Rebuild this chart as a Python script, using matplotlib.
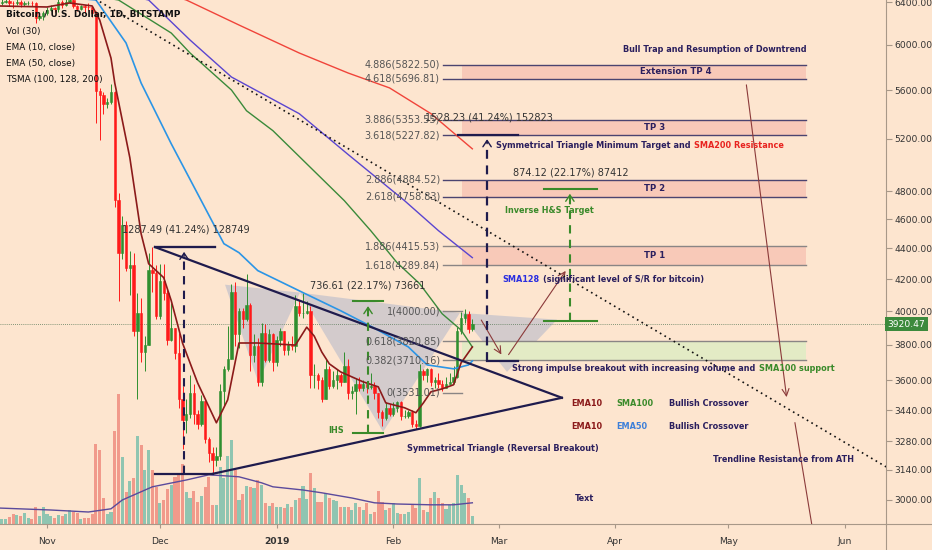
import matplotlib
matplotlib.use("Agg")
import matplotlib.pyplot as plt
import matplotlib.dates as mdates
import pandas as pd
from matplotlib.patches import Rectangle, Polygon
from matplotlib.lines import Line2D
from matplotlib.ticker import FixedLocator, FixedFormatter, NullLocator

plt.rcParams['font.family'] = ['DejaVu Sans']

# ---------------- data ----------------
start_date = '2018-10-19'
close_oct = [6395, 6405, 6410, 6395, 6390, 6405, 6385, 6390, 6395, 6390, 6250, 6265, 6300]
high_oct = [6440, 6430, 6445, 6430, 6410, 6440, 6420, 6410, 6415, 6410, 6400, 6290, 6320]
low_oct = [6360, 6375, 6390, 6370, 6350, 6380, 6360, 6365, 6375, 6370, 6200, 6230, 6230]
close_nov = [6330, 6350, 6335, 6400, 6380, 6400, 6420, 6370, 6340, 6365, 6360, 6355, 6300, 5590, 5560,
             5480, 5500, 5580, 4740, 4370, 4560, 4270, 4290, 3880, 3990, 3760, 3800, 4260, 4240, 3970]
high_nov = [6360, 6380, 6360, 6450, 6420, 6430, 6500, 6440, 6380, 6380, 6375, 6390, 6360, 6320, 5620,
            5580, 5530, 5650, 5590, 4790, 4620, 4590, 4380, 4370, 4110, 4080, 3850, 4370, 4409, 4290]
low_nov = [6280, 6320, 6310, 6310, 6350, 6370, 6390, 6350, 6320, 6330, 6300, 6330, 6260, 5330, 5190,
           5400, 5450, 5480, 4690, 4060, 4330, 4250, 4100, 3850, 3500, 3700, 3650, 3800, 4120, 3950]
close_dec = [4190, 4110, 3830, 3900, 3750, 3500, 3390, 3420, 3530, 3420, 3370, 3490, 3290, 3220, 3190, 3210,
             3540, 3660, 3720, 4120, 3860, 4000, 3950, 4040, 3740, 3790, 3590, 3870, 3710, 3860, 3700]
high_dec = [4300, 4300, 4130, 4050, 3900, 3870, 3570, 3500, 3630, 3580, 3440, 3520, 3490, 3300, 3250, 3250,
            3580, 3680, 3910, 4170, 4180, 4020, 4020, 4230, 4050, 3860, 3840, 3930, 3920, 3890, 3870]
low_dec = [3950, 4070, 3800, 3820, 3720, 3450, 3240, 3320, 3400, 3370, 3340, 3360, 3270, 3180, 3122, 3160,
           3190, 3460, 3650, 3720, 3790, 3780, 3900, 3940, 3650, 3700, 3570, 3570, 3700, 3700, 3650]
close_jan = [3830, 3880, 3770, 3800, 3790, 4030, 3990, 3990, 4000, 3630, 3630, 3600, 3500, 3660, 3570, 3600,
             3630, 3590, 3680, 3530, 3540, 3580, 3560, 3580, 3565, 3570, 3530, 3430, 3400, 3450, 3420]
high_jan = [3850, 3900, 3880, 3820, 3850, 4100, 4070, 4110, 4060, 4030, 3690, 3640, 3620, 3720, 3680, 3650,
            3660, 3640, 3760, 3720, 3570, 3610, 3620, 3600, 3590, 3640, 3590, 3530, 3440, 3480, 3470]
low_jan = [3680, 3790, 3740, 3740, 3770, 3760, 3970, 3960, 3980, 3560, 3560, 3550, 3480, 3500, 3550, 3560,
           3550, 3570, 3590, 3500, 3500, 3420, 3540, 3540, 3530, 3550, 3500, 3400, 3360, 3390, 3410]
close_feb = [3450, 3480, 3410, 3410, 3430, 3370, 3360, 3650, 3630, 3660, 3590, 3600, 3580, 3560, 3580,
             3590, 3620, 3880, 3960, 3980, 3890, 3920.47]
high_feb = [3480, 3490, 3490, 3440, 3440, 3440, 3390, 3690, 3660, 3670, 3670, 3620, 3640, 3600, 3620,
            3640, 3680, 3905, 3995, 4010, 4000, 3950]
low_feb = [3410, 3430, 3390, 3400, 3400, 3350, 3340, 3350, 3600, 3590, 3570, 3560, 3560, 3540, 3560,
           3580, 3580, 3610, 3860, 3930, 3870, 3880]
first_open = 6400

# volume, thousands of BTC
vol_oct = [1.8, 1.3, 1.3, 1.8, 2.5, 2.3, 2.0, 2.8, 1.5, 1.3, 4.3, 2.0, 4.3]
vol_nov = [2.5, 2.0, 1.5, 2.3, 2.0, 2.5, 3.5, 3.0, 2.8, 1.3, 1.5, 1.5, 2.5, 20.0, 18.5,
           6.5, 2.5, 3.0, 23.3, 32.5, 16.8, 8.0, 10.8, 11.5, 22.0, 19.8, 13.5, 18.5, 13.5, 9.3]
vol_dec = [5.3, 6.0, 8.8, 9.8, 11.8, 12.5, 15.0, 8.0, 6.5, 8.3, 5.5, 7.0, 9.3, 11.8, 4.8, 4.8,
           14.3, 11.5, 17.0, 21.0, 13.5, 6.0, 7.5, 9.5, 9.3, 9.0, 11.0, 9.8, 5.3, 4.5, 5.3]
vol_jan = [4.3, 4.3, 4.0, 5.0, 4.3, 6.0, 6.5, 9.5, 6.3, 12.8, 9.0, 5.5, 5.5, 7.8, 6.5, 6.0,
           5.8, 4.3, 4.3, 4.3, 3.5, 5.3, 4.3, 3.5, 5.3, 2.5, 3.0, 8.3, 5.5, 3.5, 4.0]
vol_feb = [5.3, 2.8, 2.5, 2.5, 3.0, 5.0, 4.0, 11.5, 3.5, 3.0, 6.5, 8.0, 6.5, 5.3, 3.8,
           4.8, 5.3, 12.3, 9.8, 7.8, 6.5, 2.0]

# indicator lines (date, value)
ema10 = [("2018-10-19", 6366), ("2018-11-01", 6356), ("2018-11-07", 6395), ("2018-11-13", 6366),
         ("2018-11-15", 6231), ("2018-11-18", 5880), ("2018-11-19", 5661), ("2018-11-23", 5053),
         ("2018-11-26", 4500), ("2018-11-28", 4299), ("2018-12-02", 4209), ("2018-12-04", 4064),
         ("2018-12-07", 3810), ("2018-12-11", 3586), ("2018-12-16", 3374), ("2018-12-19", 3494),
         ("2018-12-22", 3810), ("2018-12-27", 3810), ("2019-01-06", 3798), ("2019-01-09", 3903),
         ("2019-01-11", 3850), ("2019-01-13", 3758), ("2019-01-15", 3691), ("2019-01-18", 3646),
         ("2019-01-24", 3591), ("2019-01-28", 3564), ("2019-01-30", 3478), ("2019-02-04", 3452),
         ("2019-02-07", 3426), ("2019-02-09", 3478), ("2019-02-11", 3537), ("2019-02-14", 3553),
         ("2019-02-17", 3575), ("2019-02-19", 3696), ("2019-02-22", 3787)]
ema50 = [("2018-10-19", 6500), ("2018-11-01", 6470), ("2018-11-14", 6424), ("2018-11-22", 6017),
         ("2018-11-26", 5661), ("2018-12-04", 5161), ("2018-12-11", 4783), ("2018-12-18", 4432),
         ("2018-12-22", 4372), ("2018-12-27", 4254), ("2019-01-08", 4114), ("2019-01-18", 4002),
         ("2019-01-27", 3897), ("2019-02-05", 3787), ("2019-02-10", 3685), ("2019-02-17", 3663),
         ("2019-02-21", 3685), ("2019-02-22", 3707)]
sma100 = [("2018-10-19", 6600), ("2018-11-01", 6540), ("2018-11-20", 6424), ("2018-12-04", 6109),
          ("2018-12-09", 5926), ("2018-12-20", 5601), ("2018-12-24", 5427), ("2018-12-31", 5265),
          ("2019-01-19", 4732), ("2019-01-26", 4521), ("2019-02-02", 4306), ("2019-02-08", 4170),
          ("2019-02-14", 3983), ("2019-02-19", 3886), ("2019-02-22", 3787)]
sma128 = [("2018-10-19", 6750), ("2018-11-28", 6424), ("2018-12-09", 6044), ("2018-12-20", 5713),
          ("2019-01-07", 5403), ("2019-01-20", 5077), ("2019-02-04", 4732), ("2019-02-13", 4521),
          ("2019-02-22", 4339)]
sma200 = [("2018-10-19", 7000), ("2018-12-08", 6424), ("2018-12-22", 6184), ("2019-01-07", 5926),
          ("2019-01-20", 5748), ("2019-01-31", 5619), ("2019-02-11", 5403), ("2019-02-22", 5121)]
vol_ma = [("2018-10-19", 4.0), ("2018-11-02", 3.5), ("2018-11-12", 3.0), ("2018-11-18", 3.8),
          ("2018-11-21", 6.0), ("2018-11-29", 9.3), ("2018-12-08", 11.0), ("2018-12-14", 12.3),
          ("2018-12-19", 12.0), ("2018-12-22", 11.8), ("2018-12-28", 10.3), ("2018-12-31", 9.3),
          ("2019-01-08", 8.5), ("2019-01-13", 7.8), ("2019-01-21", 6.5), ("2019-01-27", 5.3),
          ("2019-02-02", 5.0), ("2019-02-11", 4.8), ("2019-02-17", 4.8), ("2019-02-22", 5.3)]

fib_ratios = ['4.886', '4.618', '3.886', '3.618', '2.886', '2.618', '1.886', '1.618', '1', '0.618', '0.382', '0']
fib_prices = [5822.50, 5696.81, 5353.55, 5227.82, 4884.52, 4758.83, 4415.53, 4289.84, 4000.00, 3820.85, 3710.16, 3531.01]
tp_zones = [(5696.81, 5822.50, 'Extension TP 4'), (5227.82, 5353.55, 'TP 3'),
            (4758.83, 4884.52, 'TP 2'), (4289.84, 4415.53, 'TP 1')]

price_ticks = [3000, 3140, 3280, 3440, 3600, 3800, 4000, 4200, 4400, 4600, 4800, 5200, 5600, 6000, 6400]
month_ticks = ['2018-11-01', '2018-12-01', '2019-01-01', '2019-02-01', '2019-03-01', '2019-04-01', '2019-05-01', '2019-06-01']
month_labels = ['Nov', 'Dec', '2019', 'Feb', 'Mar', 'Apr', 'May', 'Jun']
last_price = 3920.47

# ---------------- style ----------------
BG = '#fde5cf'
NAVY = '#2b1f5e'
RED_C = '#ff1a1a'
GRN_C = '#2f8f2f'
GREEN_T = '#3a8a2a'
BOLD_SIZE = 5.9
D = mdates.datestr2num

closes = close_oct + close_nov + close_dec + close_jan + close_feb
highs = high_oct + high_nov + high_dec + high_jan + high_feb
lows = low_oct + low_nov + low_dec + low_jan + low_feb
vols = vol_oct + vol_nov + vol_dec + vol_jan + vol_feb
opens = [first_open] + closes[:-1]
dates = pd.date_range(start_date, periods=len(closes), freq='D')
xd = mdates.date2num(dates.to_pydatetime())

fig = plt.figure(figsize=(9.32, 5.5), dpi=100, facecolor=BG)
rect = [0, 26 / 550, 886 / 932, 524 / 550]
axv = fig.add_axes(rect)
axv.set_facecolor(BG)
ax = fig.add_axes(rect, sharex=axv)
ax.patch.set_visible(False)

# ---- volume ----
up = [c >= o for o, c in zip(opens, closes)]
vcols = ['#8fc5b1' if u else '#f19a8b' for u in up]
axv.bar(xd, vols, width=0.82, color=vcols, linewidth=0)
axv.plot([D(d) for d, _ in vol_ma], [v for _, v in vol_ma], color='#5b4a9c', lw=1.0)
axv.set_ylim(0, 131)
for s in axv.spines.values():
    s.set_visible(False)
axv.tick_params(axis='both', which='both', length=0, labelbottom=False, labelleft=False)
axv.yaxis.set_major_locator(NullLocator())

# ---- price axis ----
ax.set_yscale('log')
ax.set_ylim(2892, 6424)
d0 = D('2018-11-01')
ax.set_xlim(d0 - 12.49, d0 + 222.9)

# IHS pattern (gray)
ihs = [("2018-12-18 07:00", 4164), ("2018-12-27 02:00", 3591), ("2019-01-07 05:00", 4114),
       ("2019-01-29 07:00", 3328), ("2019-02-18 17:00", 3989), ("2019-03-03 05:00", 3646),
       ("2019-03-16 12:00", 3948)]
for a, b, c in [(0, 1, 2), (2, 3, 4), (4, 5, 6)]:
    pts = [(D(ihs[i][0]), ihs[i][1]) for i in (a, b, c)]
    ax.add_patch(Polygon(pts, closed=True, fc='#c9c5cc', ec='none', alpha=0.8, zorder=1))

# fib levels & boxes
lab_x = D('2019-02-13 10:00')
line_x0 = D('2019-02-14 05:00')
box_x0 = D('2019-02-19 07:00')
line_x1 = D('2019-05-21 14:00')
for lo, hi, name in tp_zones:
    ax.add_patch(Rectangle((box_x0, lo), line_x1 - box_x0, hi - lo, fc='#f8c9b8', ec='none', zorder=1.2))
    cx = D('2019-04-17') if 'Extension' in name else D('2019-04-11 12:00')
    ax.text(cx, (lo * hi) ** 0.5, name, ha='center', va='center', fontsize=BOLD_SIZE + 0.2,
            fontweight='bold', color=NAVY, zorder=6)
ax.add_patch(Rectangle((box_x0, 3710.16), line_x1 - box_x0, 3820.85 - 3710.16,
                       fc='#e3ebc5', ec='none', zorder=1.2))
for r, p in zip(fib_ratios, fib_prices):
    x1 = box_x0 if r in ('1', '0') else line_x1
    col = '#4b4470' if p > 4700 else '#8a8585'
    ax.plot([line_x0, x1], [p, p], color=col, lw=1.0, zorder=1.5)
    ax.text(lab_x, p, f'{r}({p:.2f})', ha='right', va='center', fontsize=7, color='#555555', zorder=6)

# moving averages
for series, col, lw in [(sma200, '#f0443a', 1.0), (sma128, '#5a45d0', 1.0), (sma100, '#3a8a3a', 1.0),
                        (ema50, '#2b95e6', 1.2), (ema10, '#8b1a1a', 1.2)]:
    ax.plot([D(d) for d, _ in series], [v for _, v in series], color=col, lw=lw, zorder=4)

# candles
ccols = [GRN_C if u else RED_C for u in up]
ax.vlines(xd, lows, highs, colors=ccols, lw=0.7, zorder=3)
ax.bar(xd, [abs(c - o) for o, c in zip(opens, closes)], bottom=[min(o, c) for o, c in zip(opens, closes)],
       width=0.62, color=ccols, edgecolor=ccols, linewidth=0.4, zorder=3)

# symmetrical triangle
apex = (D('2019-03-17 19:00'), 3505)
ax.plot([D('2018-11-29 17:00'), apex[0]], [4409, apex[1]], color='#1f1b4d', lw=1.6, zorder=5)
ax.plot([D('2018-12-15 02:00'), apex[0]], [3122, apex[1]], color='#1f1b4d', lw=1.6, zorder=5)
ax.plot([D('2018-11-29 17:00'), D('2018-12-15 14:00')], [4409, 4409], color='#1f1b4d', lw=1.6, zorder=5)
ax.plot([D('2018-11-29 17:00'), D('2018-12-15 02:00')], [3122, 3122], color='#1f1b4d', lw=1.6, zorder=5)


def measure(xs, x0, x1, lo, hi, col, lw=1.5):
    x = D(xs)
    ax.plot([x, x], [lo, hi * 0.99], color=col, lw=lw, ls=(0, (4, 3)), zorder=5)
    ax.plot([D(x0), D(x1)], [hi, hi], color=col, lw=lw, zorder=5)
    ax.annotate('', xy=(x, hi * 0.997), xytext=(x, hi * 0.982),
                arrowprops=dict(arrowstyle='->,head_length=0.45,head_width=0.3', color=col, lw=1.0), zorder=5)


measure('2018-12-07 10:00', '2018-11-29 17:00', '2018-12-15 14:00', 3122, 4409, '#1f1b4d')
measure('2019-02-25 22:00', '2019-02-18 05:00', '2019-03-06 02:00', 3705.7, 5234, '#1f1b4d', 1.6)
ax.plot([D('2019-02-25 22:00'), D('2019-03-06 02:00')], [3705.7, 3705.7], color='#1f1b4d', lw=1.6, zorder=5)
measure('2019-03-19 22:00', '2019-03-13', '2019-03-27 02:00', 3942.8, 4816.9, GREEN_T)
ax.plot([D('2019-03-13'), D('2019-03-27 02:00')], [3942.8, 3942.8], color=GREEN_T, lw=1.5, zorder=5)
measure('2019-01-25 07:00', '2019-01-21 07:00', '2019-01-29 07:00', 3322.6, 4059.2, GREEN_T)
ax.plot([D('2019-01-21 07:00'), D('2019-01-29 07:00')], [3322.6, 3322.6], color=GREEN_T, lw=1.5, zorder=5)

# trendline from ATH (dotted)
ax.plot([D('2018-10-19'), D('2019-06-11 22:00')], [7023, 3155], color='#111111', lw=1.2,
        ls=(0, (1, 2.2)), zorder=4)

# projected path arrows
arrow_kw = dict(arrowstyle='->,head_length=0.5,head_width=0.25', color='#8b3a3a', lw=0.8)
ax.annotate('', xy=(D('2019-03-02 02:00'), 3730), xytext=(D('2019-02-24'), 3960), arrowprops=arrow_kw)
ax.annotate('', xy=(D('2019-03-19 05:00'), 4267), xytext=(D('2019-03-03 05:00'), 3730), arrowprops=arrow_kw)
ax.annotate('', xy=(D('2019-05-16 14:00'), 3494), xytext=(D('2019-05-05 17:00'), 5669), arrowprops=arrow_kw)
ax.plot([D('2019-05-18 17:00'), D('2019-05-23 14:00')], [3374, 2850], color='#8b3a3a', lw=0.8, zorder=4)

# current price line
ax.axhline(last_price, color='#5a7a5a', lw=0.6, ls=(0, (1, 1.5)), zorder=2)
ax.text(1.0015, last_price, f'{last_price:.2f}', transform=ax.get_yaxis_transform(), ha='left',
        va='center', fontsize=6.6, color='white', zorder=10, clip_on=False,
        bbox=dict(boxstyle='square,pad=0.28', fc='#3c8a3c', ec='none'))

# ---- annotation texts ----
def txt(x, y, s, color=NAVY, ha='left', bold=True, size=BOLD_SIZE):
    return ax.text(D(x), y, s, ha=ha, va='center', color=color, fontsize=size,
                   fontweight='bold' if bold else 'normal', zorder=7)


def chain(prev, s, color, size=BOLD_SIZE, gap=2.5):
    return ax.annotate(s, xy=(1, 0.5), xycoords=prev, xytext=(gap, 0), textcoords='offset points',
                       ha='left', va='center', color=color, fontsize=size, fontweight='bold', zorder=7)


txt('2019-04-27 12:00', 5953, 'Bull Trap and Resumption of Downtrend', ha='center')
txt('2019-02-26 07:00', 5370, '1528.23 (41.24%) 152823', color='#333333', ha='center', bold=False, size=7)
t = txt('2019-02-28 07:00', 5145, 'Symmetrical Triangle Minimum Target and')
chain(t, 'SMA200 Resistance', '#e8231f')
txt('2019-03-20 05:00', 4937, '874.12 (22.17%) 87412', color='#333333', ha='center', bold=False, size=7)
txt('2019-03-14 10:00', 4660, 'Inverse H&S Target', color=GREEN_T, ha='center')
t = txt('2019-03-02 02:00', 4196, 'SMA128', color='#2a2ee0')
chain(t, '(significant level of S/R for bitcoin)', NAVY)
txt('2018-12-07 19:00', 4528, '1287.49 (41.24%) 128749', color='#333333', ha='center', bold=False, size=7)
txt('2019-01-25 07:00', 4158, '736.61 (22.17%) 73661', color='#333333', ha='center', bold=False, size=7)
txt('2019-01-16 19:00', 3333, 'IHS', color=GREEN_T, ha='center')
t = txt('2019-03-04 12:00', 3663, 'Strong impulse breakout with increasing volume and')
chain(t, 'SMA100 support', GREEN_T)
txt('2019-03-20 05:00', 3473, 'EMA10', color='#8b1a1a')
txt('2019-04-01 05:00', 3473, 'SMA100', color=GREEN_T)
txt('2019-04-15 07:00', 3473, 'Bullish Crossover')
txt('2019-03-20 05:00', 3353, 'EMA10', color='#8b1a1a')
txt('2019-04-01 05:00', 3353, 'EMA50', color='#3d7fd9')
txt('2019-04-15 07:00', 3353, 'Bullish Crossover')
txt('2019-03-02 02:00', 3243, 'Symmetrical Triangle (Reversal Breakout)', ha='center')
txt('2019-05-15 19:00', 3189, 'Trendline Resistance from ATH', ha='center')
txt('2019-03-23 22:00', 3005, 'Text', ha='center')

# legend (top-left)
legend_lines = ['Bitcoin / U.S. Dollar, 1D, BITSTAMP', 'Vol (30)', 'EMA (10, close)',
                'EMA (50, close)', 'TSMA (100, 128, 200)']
for i, s in enumerate(legend_lines):
    ax.text(6 / 886, 1 - (15 + 16.2 * i) / 524, s, transform=ax.transAxes, ha='left', va='center',
            fontsize=6.4, color='#111111', fontweight='bold' if i == 0 else 'normal', zorder=8)

# ---- axes cosmetics ----
for side in ('top', 'left'):
    ax.spines[side].set_visible(False)
ax.spines['right'].set_color('#a89888')
ax.spines['bottom'].set_color('#a89888')
ax.yaxis.tick_right()
ax.yaxis.set_major_locator(FixedLocator(price_ticks))
ax.yaxis.set_major_formatter(FixedFormatter([f'{p:.2f}' for p in price_ticks]))
ax.yaxis.set_minor_locator(NullLocator())
ax.tick_params(axis='y', which='major', direction='out', length=4, color='#a89888',
               labelsize=6.6, labelcolor='#333333', pad=2)
ax.xaxis.set_major_locator(FixedLocator([D(m) for m in month_ticks]))
ax.xaxis.set_major_formatter(FixedFormatter(month_labels))
ax.xaxis.set_minor_locator(NullLocator())
ax.tick_params(axis='x', which='major', direction='out', length=3, color='#a89888',
               labelsize=6.6, labelcolor='#333333', pad=6, labelbottom=True)
for lbl in ax.get_xticklabels():
    if lbl.get_text() == '2019':
        lbl.set_fontweight('bold')

fig.add_artist(Line2D([886 / 932, 886 / 932], [0, 26 / 550], transform=fig.transFigure, color='#a89888', lw=0.8))
fig.add_artist(Line2D([886 / 932, 1], [26 / 550, 26 / 550], transform=fig.transFigure, color='#a89888', lw=0.8))

fig.savefig('out.png', dpi=100, facecolor=BG)
